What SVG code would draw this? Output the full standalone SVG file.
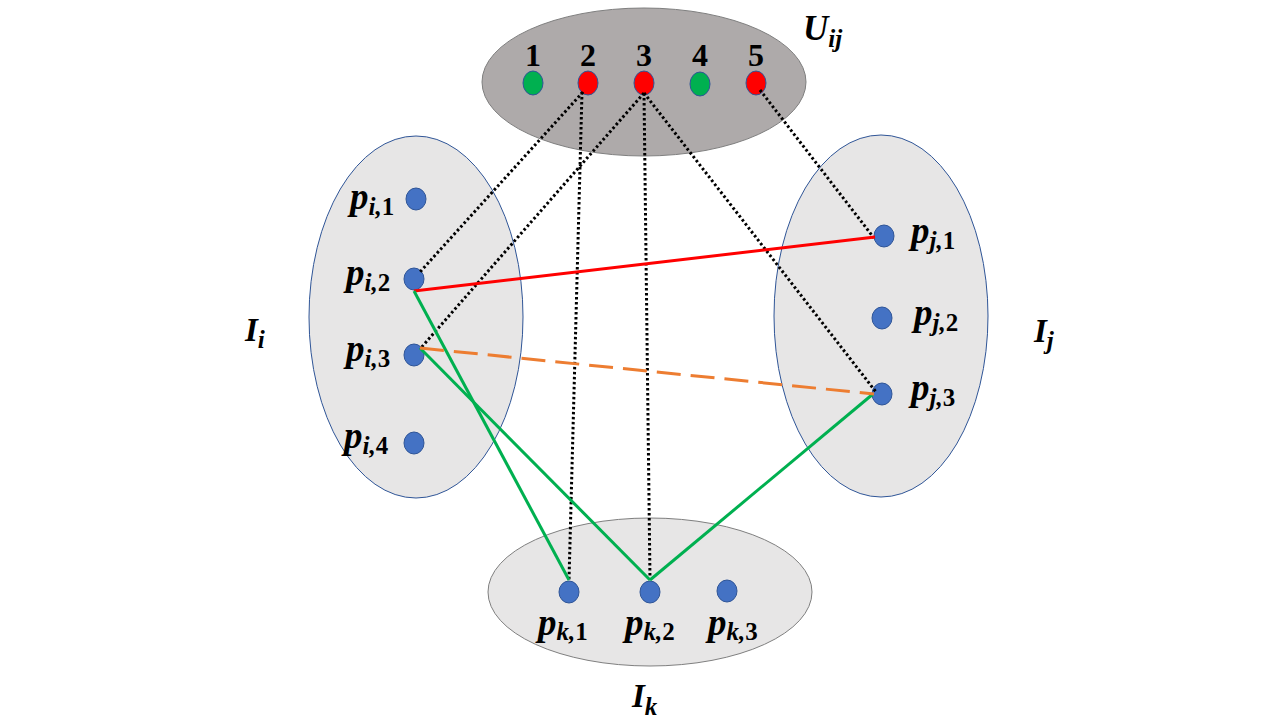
<svg xmlns="http://www.w3.org/2000/svg" width="1280" height="720" viewBox="0 0 1280 720">
<style>
.set{fill:#E7E6E6;stroke:#2F5597;stroke-width:1}
.setk{fill:#E7E6E6;stroke:#7F7F7F;stroke-width:1}
.u{fill:#AEAAAA;stroke:#7F7F7F;stroke-width:1}
.pt{fill:#4472C4;stroke:#2F5597;stroke-width:1}
.g{fill:#00B050;stroke:#2F5597;stroke-width:1}
.r{fill:#FF0000;stroke:#2F5597;stroke-width:1}
.dot{stroke:#000;stroke-width:3;stroke-dasharray:2.5 2.5;fill:none}
.red{stroke:#FF0000;stroke-width:3}
.grn{stroke:#00B050;stroke-width:3}
.org{stroke:#ED7D31;stroke-width:3;stroke-dasharray:24 10}
.p{font-family:"Liberation Serif",serif;font-weight:bold;font-style:italic;font-size:37px;fill:#000}
.s{font-size:25px}
.up{font-style:normal}
.num{font-family:"Liberation Serif",serif;font-weight:bold;font-size:32px;fill:#000;text-anchor:middle}
.L{font-family:"Liberation Serif",serif;font-weight:bold;font-style:italic;font-size:33px;fill:#000}
.LU{font-size:35px}
</style>
<g id="set-U"><ellipse class="u" cx="644" cy="82" rx="162" ry="74"/>
<text class="L LU" x="803" y="40">U<tspan class="s" dy="7">ij</tspan></text></g>
<g id="set-Ii"><ellipse class="set" cx="416" cy="317" rx="107" ry="181"/>
<text class="L" x="245" y="341">I<tspan class="s" dy="7">i</tspan></text></g>
<g id="set-Ij"><ellipse class="set" cx="881" cy="316" rx="107" ry="181"/>
<text class="L" x="1034" y="342">I<tspan class="s" dy="7">j</tspan></text></g>
<g id="set-Ik"><ellipse class="setk" cx="650" cy="592" rx="162" ry="74"/>
<text class="L" x="632" y="707">I<tspan class="s" dy="8">k</tspan></text></g>

<g id="u1"><ellipse class="g" cx="533" cy="83" rx="10" ry="12"/><text class="num" x="533" y="66">1</text></g>
<g id="u2"><ellipse class="r" cx="588" cy="83" rx="10" ry="12"/><text class="num" x="588" y="66">2</text></g>
<g id="u3"><ellipse class="r" cx="644" cy="83" rx="10" ry="12"/><text class="num" x="644" y="66">3</text></g>
<g id="u4"><ellipse class="g" cx="700" cy="84" rx="10" ry="12"/><text class="num" x="700" y="66">4</text></g>
<g id="u5"><ellipse class="r" cx="756" cy="83" rx="10" ry="12"/><text class="num" x="756" y="66">5</text></g>

<g id="pi1"><ellipse class="pt" cx="416" cy="199" rx="10" ry="11"/><text class="p" x="350" y="209">p<tspan class="s" dy="6">i,<tspan class="up">1</tspan></tspan></text></g>
<g id="pi2"><ellipse class="pt" cx="414" cy="279" rx="10" ry="11"/><text class="p" x="346" y="285">p<tspan class="s" dy="6">i,<tspan class="up">2</tspan></tspan></text></g>
<g id="pi3"><ellipse class="pt" cx="414" cy="355" rx="10" ry="11"/><text class="p" x="346" y="361">p<tspan class="s" dy="6">i,<tspan class="up">3</tspan></tspan></text></g>
<g id="pi4"><ellipse class="pt" cx="414" cy="443" rx="10" ry="11"/><text class="p" x="344" y="448">p<tspan class="s" dy="6">i,<tspan class="up">4</tspan></tspan></text></g>

<g id="pj1"><ellipse class="pt" cx="884" cy="236" rx="10" ry="11"/><text class="p" x="911" y="243">p<tspan class="s" dy="6">j,<tspan class="up">1</tspan></tspan></text></g>
<g id="pj2"><ellipse class="pt" cx="882" cy="318" rx="10" ry="11"/><text class="p" x="914" y="325">p<tspan class="s" dy="6">j,<tspan class="up">2</tspan></tspan></text></g>
<g id="pj3"><ellipse class="pt" cx="882" cy="394" rx="10" ry="11"/><text class="p" x="911" y="400">p<tspan class="s" dy="6">j,<tspan class="up">3</tspan></tspan></text></g>

<g id="pk1"><ellipse class="pt" cx="569" cy="592" rx="10" ry="11"/><text class="p" x="538" y="635">p<tspan class="s" dy="5">k,<tspan class="up">1</tspan></tspan></text></g>
<g id="pk2"><ellipse class="pt" cx="650" cy="592" rx="10" ry="11"/><text class="p" x="625" y="635">p<tspan class="s" dy="5">k,<tspan class="up">2</tspan></tspan></text></g>
<g id="pk3"><ellipse class="pt" cx="727" cy="591" rx="10" ry="11"/><text class="p" x="708" y="635">p<tspan class="s" dy="5">k,<tspan class="up">3</tspan></tspan></text></g>

<g id="connectors">
<line class="dot" x1="583" y1="92" x2="420" y2="272"/>
<line class="dot" x1="582" y1="92" x2="569" y2="580"/>
<line class="dot" x1="644" y1="93" x2="420" y2="349"/>
<line class="dot" x1="644" y1="93" x2="650" y2="580"/>
<line class="dot" x1="644" y1="93" x2="876" y2="392"/>
<line class="dot" x1="760" y1="90" x2="874" y2="238"/>
<line class="red" x1="414" y1="291" x2="875" y2="237"/>
<line class="grn" x1="414" y1="291" x2="569" y2="580"/>
<line class="grn" x1="420" y1="348" x2="650" y2="580"/>
<line class="grn" x1="650" y1="580" x2="873" y2="394"/>
<line class="org" x1="420" y1="348" x2="874" y2="394"/>
</g>
</svg>
